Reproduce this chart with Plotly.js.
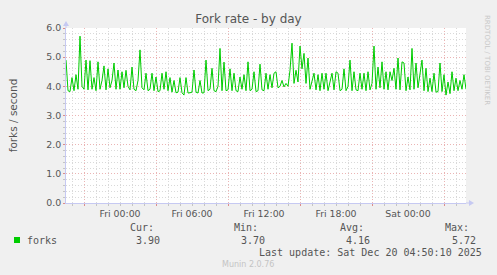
<!DOCTYPE html>
<html><head><meta charset="utf-8">
<script src="https://cdn.plot.ly/plotly-3.0.1.min.js"></script>
<style>html,body{margin:0;padding:0;background:#f0f0f0;overflow:hidden}</style>
</head><body><div id="chart" style="width:497px;height:275px"></div>
<script>
const chartTitle = 'Fork rate - by day';
const yTitle = 'forks / second';
const seriesName = 'forks';
const sampleMinutes = 10;
// samples every 10 minutes from Thu 2025-12-18 19:30 to Sat 2025-12-20 04:50
const forks = [
 4.90,3.85,3.82,4.30,3.85,4.40,3.90,5.72,4.00,3.90,
 4.90,3.88,4.88,3.90,4.30,3.85,4.84,3.90,4.20,4.70,
 3.88,4.60,3.95,4.20,4.80,3.90,4.56,3.90,4.50,3.95,
 4.55,4.00,3.88,4.66,3.90,3.85,4.20,5.25,3.95,3.88,
 4.45,3.85,3.90,4.45,3.85,4.32,3.82,3.85,4.45,3.90,
 4.50,3.85,4.30,3.80,4.20,3.78,3.80,4.30,3.78,3.70,
 4.30,3.77,3.78,3.80,4.56,3.80,3.77,4.20,3.77,3.78,
 4.90,3.85,3.90,4.62,3.85,3.82,4.00,5.30,3.85,4.83,
 3.85,3.88,4.60,3.85,4.45,3.85,3.82,4.32,3.90,4.40,
 3.85,4.84,3.85,3.90,4.50,3.82,3.85,4.76,3.88,3.85,
 4.45,3.90,4.40,3.95,4.45,4.50,3.95,4.00,4.20,3.98,
 4.10,4.00,4.55,5.48,4.10,4.55,4.15,5.38,4.60,5.13,
 4.10,4.97,3.90,4.20,4.45,3.88,4.40,3.85,4.45,3.90,
 4.45,3.85,4.20,4.45,3.88,4.50,4.45,3.85,3.90,4.60,
 3.85,4.00,4.90,3.85,4.50,3.88,3.85,4.45,3.90,4.45,
 3.85,4.50,3.88,4.10,5.38,3.90,4.66,3.95,4.84,3.90,
 4.50,3.88,4.50,4.20,4.62,3.90,4.97,3.88,4.84,4.80,
 3.85,4.32,3.88,5.30,3.90,4.80,3.95,4.45,4.90,3.85,
 4.62,3.82,4.28,3.82,4.45,3.80,3.82,4.80,3.82,4.40,
 3.70,4.15,3.75,4.50,3.85,4.28,3.85,4.20,3.90,4.40,
 3.90
];
const statNames = ['Cur:', 'Min:', 'Avg:', 'Max:'];
const statValues = ['3.90', '3.70', '4.16', '5.72'];
const lastUpdate = 'Last update: Sat Dec 20 04:50:10 2025';
const footer = 'Munin 2.0.76';
const sideText = 'RRDTOOL / TOBI OETIKER';

const t0 = Date.UTC(2025, 11, 18, 19, 30);
const times = forks.map((_, i) => t0 + i * sampleMinutes * 60000);
const tEnd = times[times.length - 1];
const H = 3600000;

const L = 66, R = 466, T = 28, B = 203;
const px = x => (x - L) / (R - L);
const py = y => (B - y) / (B - T);

const sans = 'DejaVu Sans, sans-serif';
const mono = 'DejaVu Sans Mono, monospace';
const txt = '#555555';
const gridGrey = '#d9d9d9';
const gridRed = '#ebb4b4';
const axisBlue = '#c6c9f2';
const dash = '1px,2px';

const traces = [
  {x: times, y: forks, type: 'scatter', mode: 'lines', name: seriesName,
   line: {color: '#00cc00', width: 1}, hoverinfo: 'skip', showlegend: false},
  {x: [times[0]], y: [null], xaxis: 'x2', yaxis: 'y', type: 'scatter', mode: 'lines',
   showlegend: false, hoverinfo: 'skip'}
];

const annotations = [];
const ann = (text, x, y, opts) => annotations.push(Object.assign({
  text, x: px(x), y: py(y), xref: 'paper', yref: 'paper', showarrow: false,
  xanchor: 'right', yanchor: 'middle', font: {family: mono, size: 10, color: txt}
}, opts || {}));

const statLabelX = [156, 260, 366, 471];
const statValueX = [162, 267, 372, 478];
statNames.forEach((s, i) => ann(s, statLabelX[i], 227.5));
statValues.forEach((s, i) => ann(s, statValueX[i], 240));
ann(seriesName, 25, 240, {xanchor: 'left'});
ann(lastUpdate, 484, 252);
ann(footer, 248, 264, {xanchor: 'center', font: {family: sans, size: 8, color: '#c4c4c4'}});
ann(sideText, 487, 60, {xanchor: 'center', textangle: 90, font: {family: sans, size: 7, color: '#c8c8c8'}});

const shapes = [
  {type: 'rect', xref: 'paper', yref: 'paper', x0: px(14), x1: px(20), y0: py(243), y1: py(237),
   fillcolor: '#00cc00', line: {width: 0}},
  {type: 'line', xref: 'paper', yref: 'paper', x0: px(R), x1: px(470), y0: 0, y1: 0,
   line: {color: axisBlue, width: 1}},
  {type: 'path', xref: 'paper', yref: 'paper',
   path: `M ${px(469)},${py(200)} L ${px(474)},${py(203)} L ${px(469)},${py(206)} Z`,
   fillcolor: axisBlue, line: {width: 0}},
  {type: 'line', xref: 'paper', yref: 'paper', x0: 0, x1: 0, y0: 1, y1: py(25),
   line: {color: axisBlue, width: 1}},
  {type: 'path', xref: 'paper', yref: 'paper',
   path: `M ${px(63)},${py(26)} L ${px(66)},${py(21)} L ${px(69)},${py(26)} Z`,
   fillcolor: axisBlue, line: {width: 0}}
];

const layout = {
  width: 497, height: 275,
  margin: {l: L, r: 497 - R, t: T, b: 275 - B},
  paper_bgcolor: '#f0f0f0', plot_bgcolor: '#ffffff',
  title: {text: chartTitle, x: 0.5, xref: 'container', xanchor: 'center',
          y: 1 - 19 / 275, yref: 'container', yanchor: 'middle',
          font: {family: sans, size: 12, color: txt}},
  showlegend: false,
  xaxis: {type: 'date', range: [t0, tEnd], tickformat: '%a %H:%M',
          tick0: Date.UTC(2025, 11, 19, 0, 0), dtick: 6 * H,
          showgrid: true, gridcolor: gridGrey, griddash: dash, gridwidth: 1,
          ticks: 'outside', ticklen: 2, tickcolor: '#c4c4c4',
          tickfont: {family: sans, size: 9.4, color: txt},
          showline: true, linecolor: axisBlue, linewidth: 1, zeroline: false,
          minor: {dtick: H, tick0: Date.UTC(2025, 11, 19, 0, 0), showgrid: true,
                  gridcolor: gridGrey, griddash: dash, ticks: 'outside', ticklen: 2, tickcolor: '#c4c4c4'},
          fixedrange: true},
  xaxis2: {type: 'date', overlaying: 'x', side: 'bottom', range: [t0, tEnd],
           tick0: Date.UTC(2025, 11, 18, 21, 0), dtick: 6 * H,
           showgrid: true, gridcolor: gridRed, griddash: dash,
           showticklabels: false, ticks: 'outside', ticklen: 2, tickcolor: '#dc8c8c',
           showline: false, zeroline: false, fixedrange: true},
  yaxis: {range: [0, 6], dtick: 1, tick0: 0, tickformat: '.1f',
          showgrid: true, gridcolor: gridRed, griddash: dash,
          ticks: 'outside', ticklen: 2, tickcolor: '#dc8c8c',
          tickfont: {family: sans, size: 9.4, color: txt},
          showline: true, linecolor: axisBlue, zeroline: false,
          title: {text: yTitle, font: {family: sans, size: 10.5, color: txt}, standoff: 26},
          minor: {dtick: 0.2, showgrid: true, gridcolor: gridGrey, griddash: dash,
                  ticks: 'outside', ticklen: 2, tickcolor: '#c4c4c4'},
          fixedrange: true},
  shapes, annotations
};

Plotly.newPlot('chart', traces, layout, {displayModeBar: false, staticPlot: true});
</script>
</body></html>
